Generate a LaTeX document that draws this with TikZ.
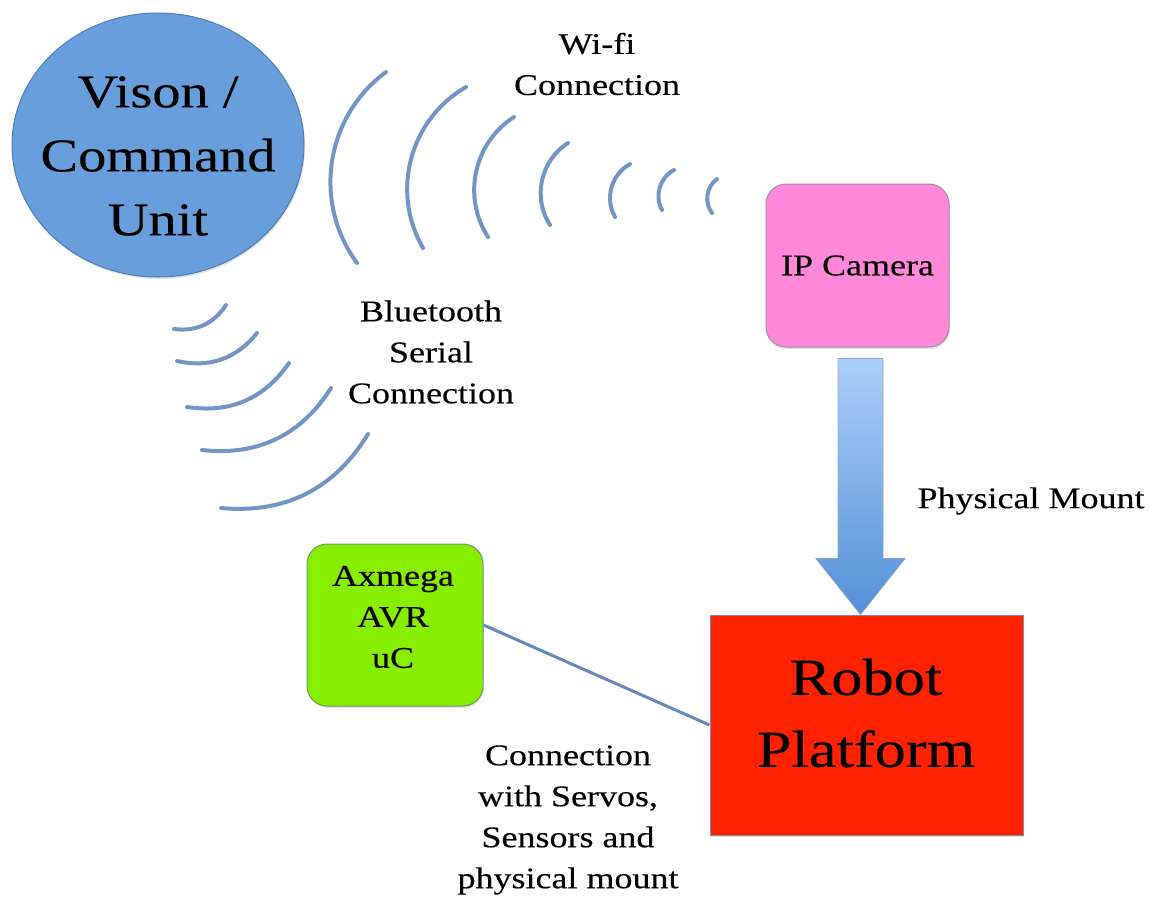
\documentclass[tikz,border=0pt]{standalone}
\usepackage{fontspec}
\setmainfont{Liberation Serif}[FakeStretch=1.2, FakeBold=0.3]
\usetikzlibrary{calc,shapes.geometric,shadows}

\definecolor{wavecol}{RGB}{112,150,200}
\definecolor{unitblue}{RGB}{104,158,220}
\definecolor{unitedge}{RGB}{74,126,187}
\definecolor{campink}{RGB}{255,136,216}
\definecolor{camedge}{RGB}{165,135,175}
\definecolor{mcugreen}{RGB}{136,238,0}
\definecolor{mcuedge}{RGB}{105,150,110}
\definecolor{robotred}{RGB}{255,34,0}
\definecolor{robotedge}{RGB}{135,135,170}
\definecolor{arrowtop}{RGB}{172,206,250}
\definecolor{arrowbot}{RGB}{84,144,214}
\definecolor{linkcol}{RGB}{100,136,188}

\begin{document}
\begin{tikzpicture}[x=1pt,y=-1pt,
  wavearc/.style={draw=wavecol, line width=4pt, line cap=round},
  lbl/.style={align=center, inner sep=0pt, font=\fontsize{30}{41}\selectfont},
  biglbl/.style={align=center, inner sep=0pt, font=\fontsize{47}{64}\selectfont},
  hugelbl/.style={align=center, inner sep=0pt, font=\fontsize{52}{72}\selectfont},
  softshadow/.style={drop shadow={opacity=0.22, shadow xshift=1pt, shadow yshift=-2pt}},
  roundbox/.style={rounded corners=20pt, line width=1pt, inner sep=0pt, softshadow},
  mountarrow/.style={draw=unitedge!70, line width=0.8pt, top color=arrowtop, bottom color=arrowbot}
]
\useasboundingbox (0,0) rectangle (1151,898);

% vision / command unit
\node[ellipse, fill=unitblue, draw=unitedge, line width=1pt,
      minimum width=292pt, minimum height=264pt, inner sep=0pt, softshadow]
      (vcu) at (158,145) {};
\node[biglbl] (vcutext) at (158,156) {Vison /\\Command\\Unit};

% wi-fi waves
\coordinate (w1t) at (386,72);  \coordinate (w1b) at (357,263);
\coordinate (w2t) at (466,87);  \coordinate (w2b) at (423,248);
\coordinate (w3t) at (514,117); \coordinate (w3b) at (488,237);
\coordinate (w4t) at (568,143); \coordinate (w4b) at (550,225);
\coordinate (w5t) at (630,164); \coordinate (w5b) at (615,217);
\coordinate (w6t) at (674,170); \coordinate (w6b) at (662,210);
\coordinate (w7t) at (717,179); \coordinate (w7b) at (712,213);
\foreach \i in {1,...,7}
  \draw[wavearc] (w\i t) to[bend right=45] (w\i b);

\node[lbl] (wifi) at (597,64) {Wi-fi\\Connection};

% bluetooth waves
\coordinate (b1l) at (174,329); \coordinate (b1r) at (226,305);
\coordinate (b2l) at (177,361); \coordinate (b2r) at (257,333);
\coordinate (b3l) at (187,407); \coordinate (b3r) at (289,363);
\coordinate (b4l) at (202,450); \coordinate (b4r) at (331,388);
\coordinate (b5l) at (221,508); \coordinate (b5r) at (368,434);
\foreach \i in {1,...,5}
  \draw[wavearc] (b\i l) to[bend right=32] (b\i r);

\node[lbl] (bt) at (431,352) {Bluetooth\\Serial\\Connection};

% ip camera
\node[roundbox, fill=campink, draw=camedge, minimum width=183pt, minimum height=163pt,
      font=\fontsize{30}{41}\selectfont] (cam) at (857.5,265.5) {IP Camera};

% robot platform
\node[draw=robotedge, fill=robotred, line width=1pt, minimum width=313pt, minimum height=220pt,
      inner sep=0pt, softshadow] (robot) at (866.5,725) {};
\node[hugelbl] (robottext) at (866,713) {Robot\\Platform};

% mounting arrow
\coordinate (atop) at ($(cam.south)+(3,11)$);
\coordinate (atip) at (atop |- robot.north);
\draw[mountarrow]
  ($(atop)+(-22.5,0)$) -- ($(atop)+(22.5,0)$) -- ($(atip)+(22.5,-56)$) --
  ($(atip)+(44.5,-56)$) -- (atip) -- ($(atip)+(-44.5,-56)$) --
  ($(atip)+(-22.5,-56)$) -- cycle;
\node[lbl] (mount) at (1031,501) {Physical Mount};

% microcontroller
\node[roundbox, fill=mcugreen, draw=mcuedge, minimum width=176pt, minimum height=162pt]
      (mcu) at (395,625) {};
\node[lbl] (mcutext) at (393,617) {Axmega\\AVR\\uC};
\draw[linkcol, line width=3pt] (mcu.east) -- (robot.west);

\node[lbl] (servo) at (568,820) {Connection\\with Servos,\\Sensors and\\physical mount};
\end{tikzpicture}
\end{document}
